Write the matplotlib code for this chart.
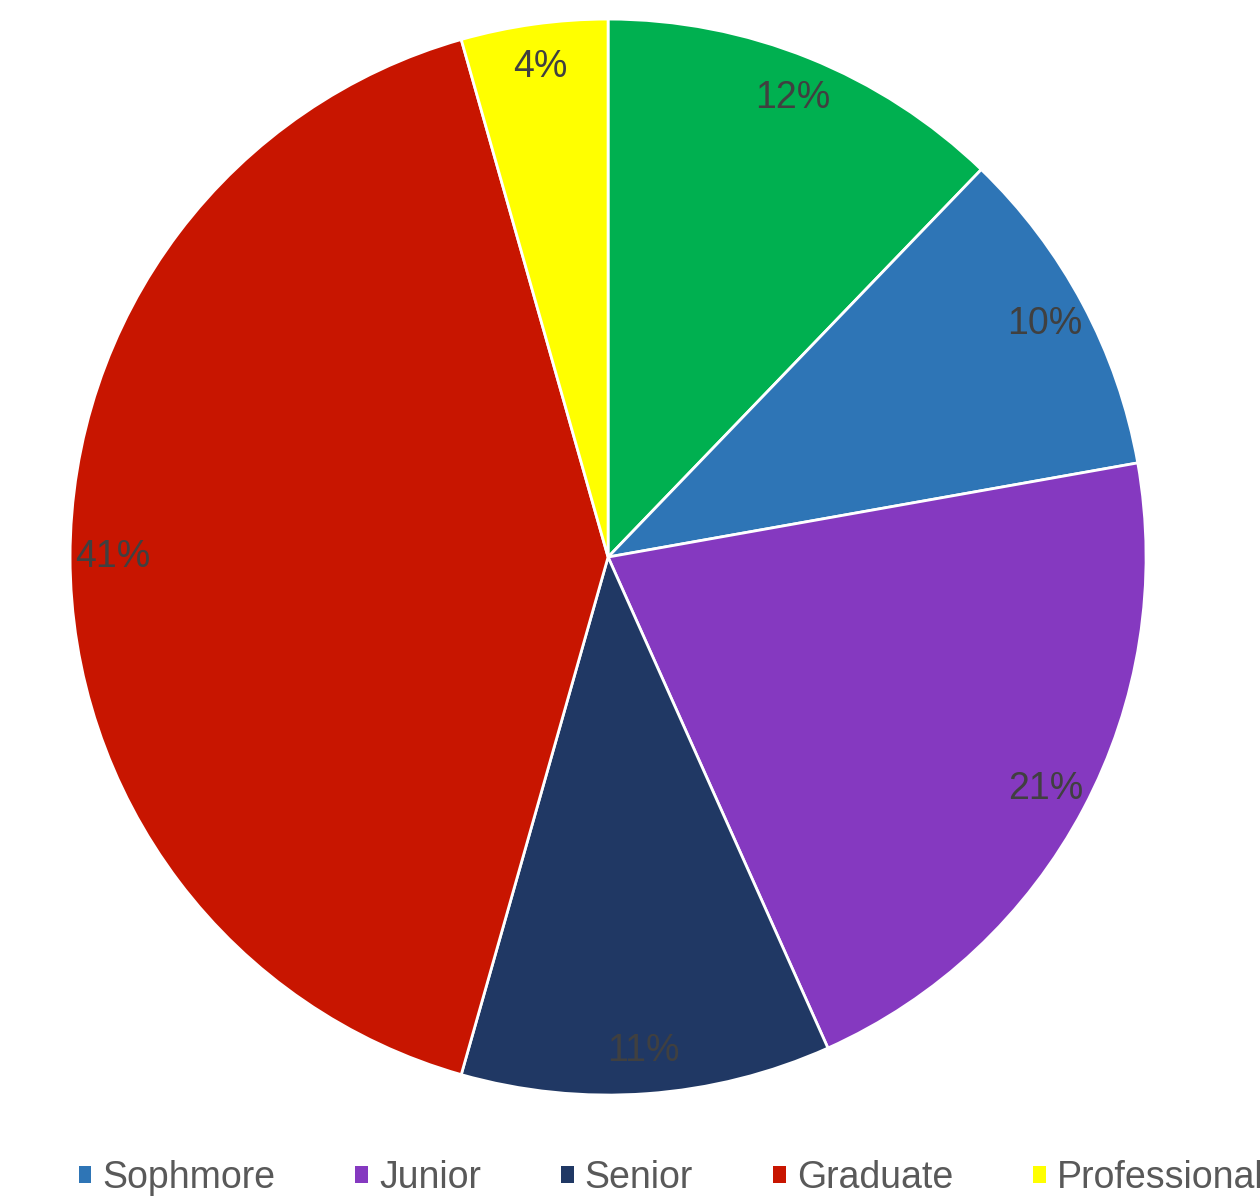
import matplotlib.pyplot as plt
from matplotlib.patches import Patch

plt.rcParams['font.family'] = ['Liberation Sans', 'DejaVu Sans']

# class standing shares (%), clockwise from 12 o'clock
categories = ["Freshman", "Sophmore", "Junior", "Senior", "Graduate", "Professional"]
shares = [12.2, 10.0, 21.1, 11.1, 41.2, 4.4]
colors = ["#00B050", "#2E75B6", "#8539C0", "#203864", "#C81500", "#FFFF00"]

fig = plt.figure(figsize=(12.6, 11.99), dpi=100)
ax = fig.add_axes([0.0556, 0.0867, 0.854, 0.8974])

wedges, texts, autotexts = ax.pie(
    shares, colors=colors, startangle=90, counterclock=False,
    autopct=lambda p: f"{p:.0f}%", pctdistance=0.92,
    wedgeprops=dict(edgecolor="white", linewidth=2),
    textprops=dict(color="#404040", fontsize=27),
)
ax.set_xlim(-1, 1)
ax.set_ylim(-1, 1)
ax.set_aspect("equal")

# legend skips the first slice
handles = [Patch(facecolor=c, edgecolor="none") for c in colors[1:]]
fig.legend(handles, categories[1:], loc="lower left",
           bbox_to_anchor=(0.043, -0.018), ncol=5, frameon=False,
           fontsize=27, labelcolor="#595959", borderpad=0.15,
           handlelength=0.33, handleheight=0.33, handletextpad=0.3,
           columnspacing=2.14)

fig.savefig("out.png", dpi=100)
